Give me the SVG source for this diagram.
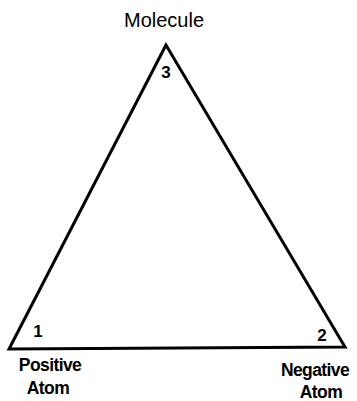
<svg xmlns="http://www.w3.org/2000/svg" width="357" height="401" viewBox="0 0 357 401">
<style>
text{font-family:"Liberation Sans",Arial,sans-serif;fill:#000;}
.title{font-size:20px;}
.lbl{font-size:17.5px;font-weight:bold;letter-spacing:-0.6px;}
.num{font-size:17px;font-weight:bold;}
.edge{stroke:#000;stroke-width:3;fill:none;stroke-linejoin:miter;}
</style>
<rect width="357" height="401" fill="#fff"/>
<g id="connectors">
<path class="edge" d="M166,45 L9,349 L345,347 Z"/>
</g>
<g id="molecule">
<text class="title" x="164" y="27" text-anchor="middle">Molecule</text>
<text class="num" x="166" y="78" text-anchor="middle">3</text>
</g>
<g id="positive">
<text class="num" x="38" y="337" text-anchor="middle">1</text>
<text class="lbl" x="50" y="371" text-anchor="middle">Positive</text>
<text class="lbl" x="48" y="394" text-anchor="middle">Atom</text>
</g>
<g id="negative">
<text class="num" x="322" y="341" text-anchor="middle">2</text>
<text class="lbl" x="315" y="376" text-anchor="middle">Negative</text>
<text class="lbl" x="321" y="398" text-anchor="middle">Atom</text>
</g>
</svg>
